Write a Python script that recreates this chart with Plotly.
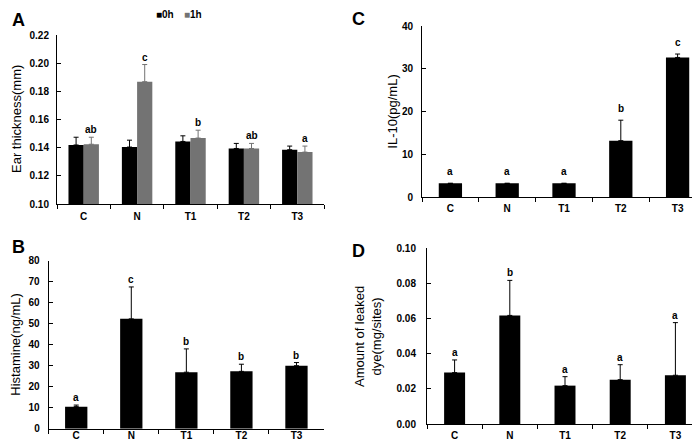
import plotly.graph_objects as go

# ---------------- data ----------------
groups = ["C", "N", "T1", "T2", "T3"]

ear_0h = [0.1420, 0.1405, 0.1445, 0.1395, 0.1386]
ear_0h_err = [0.0055, 0.0049, 0.0040, 0.0036, 0.0026]
ear_1h = [0.1425, 0.1870, 0.1469, 0.1395, 0.1369]
ear_1h_err = [0.0050, 0.0122, 0.0056, 0.0036, 0.0043]
ear_letters = ["ab", "c", "b", "ab", "a"]

hist = [10.5, 52.3, 26.9, 27.3, 30.0]
hist_err = [0.75, 15.2, 11.1, 3.4, 1.5]
hist_letters = ["a", "c", "b", "b", "b"]

il10 = [3.2, 3.2, 3.2, 13.2, 32.7]
il10_err = [0, 0, 0, 4.8, 0.8]
il10_letters = ["a", "a", "a", "b", "c"]

dye = [0.0292, 0.0617, 0.0218, 0.0252, 0.0277]
dye_err = [0.0072, 0.0199, 0.0051, 0.0085, 0.0299]
dye_letters = ["a", "b", "a", "a", "a"]

# ---------------- helpers ----------------
W, H = 700, 440
FONT = "Liberation Sans"
GRAY = "#737373"


def px(x):
    return x / W


def py(y):
    return 1 - y / H


def err(arr, color):
    return dict(type="data", array=arr, arrayminus=[0] * len(arr), symmetric=False,
                color=color, thickness=1, width=2.5)


fig = go.Figure()

# Panel A
fig.add_trace(go.Bar(x=groups, y=ear_0h, width=0.285, offset=-0.285, marker_color="black",
                     marker_line_width=0, error_y=err(ear_0h_err, "black"),
                     xaxis="x", yaxis="y", name="0h"))
fig.add_trace(go.Bar(x=groups, y=ear_1h, width=0.285, offset=0, marker_color=GRAY,
                     marker_line_width=0, error_y=err(ear_1h_err, GRAY),
                     xaxis="x", yaxis="y", name="1h"))
# Panel B
fig.add_trace(go.Bar(x=groups, y=hist, width=0.405, marker_color="black", marker_line_width=0,
                     error_y=err(hist_err, "black"), xaxis="x2", yaxis="y2"))
# Panel C
fig.add_trace(go.Bar(x=groups, y=il10, width=0.41, marker_color="black", marker_line_width=0,
                     error_y=err(il10_err, "black"), xaxis="x3", yaxis="y3"))
# Panel D
fig.add_trace(go.Bar(x=groups, y=dye, width=0.38, marker_color="black", marker_line_width=0,
                     error_y=err(dye_err, "black"), xaxis="x4", yaxis="y4"))

tickfont = dict(family=FONT, size=10, color="black", weight="bold")


def xax(x0, x1, anchor, standoff):
    return dict(domain=[px(x0), px(x1)], anchor=anchor, type="category", range=[-0.5, 4.5],
                tickson="boundaries", ticks="outside", ticklen=4, tickwidth=1, tickcolor="black",
                showline=True, linecolor="black", linewidth=1, showgrid=False, zeroline=False,
                tickfont=tickfont, ticklabelstandoff=standoff, fixedrange=True, automargin=False)


def yax(y_top, y_bot, anchor, rng, dtick, fmt, standoff):
    return dict(domain=[py(y_bot), py(y_top)], anchor=anchor, range=rng, dtick=dtick,
                tickformat=fmt, ticks="inside", ticklen=4, tickwidth=1, tickcolor="black",
                showline=True, linecolor="black", linewidth=1, showgrid=False, zeroline=False,
                tickfont=tickfont, ticklabelstandoff=standoff, fixedrange=True, automargin=False)


fig.update_layout(
    width=W, height=H, margin=dict(l=0, r=0, t=0, b=0, autoexpand=False),
    paper_bgcolor="white", plot_bgcolor="white", showlegend=False,
    xaxis=xax(49, 316, "y", 3),
    yaxis=yax(27.3, 196, "x", [0.10, 0.22], 0.02, ".2f", 5),
    xaxis2=xax(40.7, 316, "y2", -3),
    yaxis2=yax(252.7, 420.7, "x2", [0, 80], 10, "d", 6),
    xaxis3=xax(414, 698, "y3", 2),
    yaxis3=yax(18.3, 189, "x3", [0, 40], 10, "d", 6),
    xaxis4=xax(419, 695, "y4", 2),
    yaxis4=yax(240, 416, "x4", [0, 0.10], 0.02, ".2f", 8),
)

ann = []
lf = dict(family=FONT, size=10, color="black", weight="bold")
# significance letters
for g, v, e, t in zip(groups, ear_1h, ear_1h_err, ear_letters):
    ann.append(dict(x=g, y=v + e, xref="x", yref="y", text=t, showarrow=False, yanchor="bottom",
                    xshift=7.6, font=lf))
for g, v, e, t in zip(groups, hist, hist_err, hist_letters):
    ann.append(dict(x=g, y=v + e, xref="x2", yref="y2", text=t, showarrow=False, yanchor="bottom",
                    font=lf))
for g, v, e, t in zip(groups, il10, il10_err, il10_letters):
    ann.append(dict(x=g, y=v + e, xref="x3", yref="y3", text=t, showarrow=False, yanchor="bottom",
                    yshift=4, font=lf))
for g, v, e, t in zip(groups, dye, dye_err, dye_letters):
    ann.append(dict(x=g, y=v + e, xref="x4", yref="y4", text=t, showarrow=False, yanchor="bottom",
                    font=lf))

# axis titles
tf = dict(family=FONT, size=13, color="black")
for text, x, y in [("Ear thickness(mm)", 8.5, 111.5), ("Histamine(ng/mL)", 8, 336.7),
                   ("IL-10(pg/mL)", 385, 103.7), ("Amount of leaked<br>dye(mg/sites)", 360, 328)]:
    ann.append(dict(x=px(x), y=py(y), xref="paper", yref="paper", text=text, textangle=-90,
                    showarrow=False, xanchor="center", yanchor="middle", font=tf))

# panel letters
pf = dict(family=FONT, size=18, color="black", weight="bold")
for t, x, y in [("A", 2, 12), ("B", 2, 239), ("C", 342, 11), ("D", 342, 243)]:
    ann.append(dict(x=px(x), y=py(y), xref="paper", yref="paper", text=t, showarrow=False,
                    xanchor="left", yanchor="middle", font=pf))

# legend
ann.append(dict(x=px(146), y=py(6), xref="paper", yref="paper",
                text="<span style='color:black'>■</span>0h", showarrow=False,
                xanchor="left", yanchor="middle", font=lf))
ann.append(dict(x=px(174), y=py(6), xref="paper", yref="paper",
                text=f"<span style='color:{GRAY}'>■</span>1h", showarrow=False,
                xanchor="left", yanchor="middle", font=lf))

fig.update_layout(annotations=ann)
fig.write_html("out.html")
